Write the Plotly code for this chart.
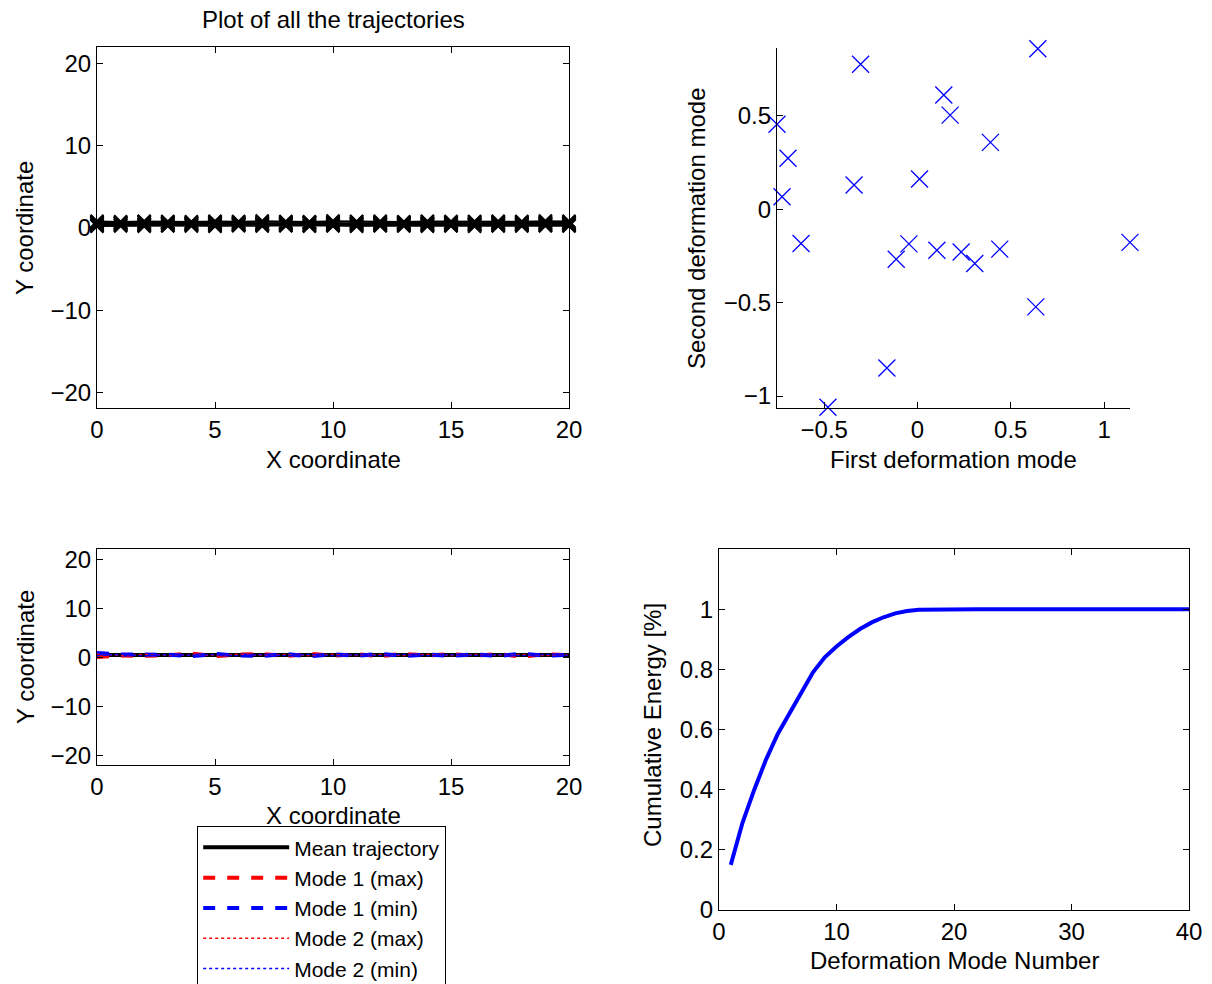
import plotly.graph_objects as go

W, H = 1212, 984

# ---------------- data ----------------
x_coord = list(range(21))

traj_1 = [0.45, 0.52, 0.48, 0.55, 0.50, 0.47, 0.53, 0.49, 0.51, 0.56, 0.50, 0.46, 0.52, 0.49, 0.54, 0.50, 0.47, 0.53, 0.50, 0.48, 0.51]
traj_2 = [0.30, 0.36, 0.33, 0.28, 0.35, 0.31, 0.38, 0.34, 0.29, 0.33, 0.37, 0.32, 0.30, 0.36, 0.33, 0.28, 0.34, 0.31, 0.35, 0.30, 0.33]
traj_3 = [0.70, 0.66, 0.72, 0.68, 0.64, 0.71, 0.67, 0.73, 0.69, 0.65, 0.70, 0.74, 0.68, 0.66, 0.71, 0.69, 0.72, 0.67, 0.70, 0.73, 0.68]
traj_4 = [0.55, 0.60, 0.42, 0.58, 0.47, 0.62, 0.44, 0.57, 0.49, 0.61, 0.43, 0.59, 0.46, 0.63, 0.45, 0.58, 0.41, 0.60, 0.48, 0.56, 0.52]
traj_5 = [0.20, 0.25, 0.22, 0.27, 0.24, 0.21, 0.26, 0.23, 0.28, 0.22, 0.25, 0.20, 0.27, 0.24, 0.22, 0.26, 0.21, 0.25, 0.23, 0.27, 0.24]
traj_6 = [0.80, 0.76, 0.82, 0.78, 0.75, 0.81, 0.77, 0.84, 0.79, 0.76, 0.83, 0.78, 0.80, 0.75, 0.82, 0.79, 0.77, 0.81, 0.78, 0.83, 0.80]
traj_7 = [0.40, 0.38, 0.44, 0.41, 0.37, 0.43, 0.39, 0.42, 0.45, 0.40, 0.36, 0.42, 0.44, 0.39, 0.41, 0.37, 0.43, 0.40, 0.38, 0.42, 0.39]
traj_8 = [0.62, 0.57, 0.65, 0.60, 0.56, 0.63, 0.59, 0.54, 0.61, 0.66, 0.58, 0.55, 0.62, 0.60, 0.57, 0.64, 0.59, 0.56, 0.63, 0.58, 0.61]
trajectories = [traj_1, traj_2, traj_3, traj_4, traj_5, traj_6, traj_7, traj_8]

mode1_first = [-0.753, -0.694, -0.726, -0.624, -0.480, -0.305, -0.340, -0.164, -0.114, -0.046, 0.011,
               0.104, 0.141, 0.175, 0.234, 0.307, 0.391, 0.441, 0.634, 0.645, 1.139]
mode2_second = [0.454, 0.272, 0.066, -0.184, -1.060, 0.775, 0.129, -0.850, -0.268, -0.186, 0.161,
                -0.220, 0.611, 0.503, -0.229, -0.291, 0.357, -0.214, -0.523, 0.858, -0.178]

mean_traj = [0.50, 0.51, 0.49, 0.50, 0.52, 0.50, 0.49, 0.51, 0.50, 0.50, 0.51, 0.49, 0.50, 0.52, 0.50, 0.49, 0.51, 0.50, 0.50, 0.51, 0.50]
mode1_max = [0.10, 0.40, 0.35, 0.45, 0.80, 0.30, 0.60, 0.70, 0.30, 0.75, 0.35, 0.65, 0.30, 0.72, 0.40, 0.68, 0.35, 0.70, 0.20, 0.65, 0.45]
mode1_min = [0.90, 0.60, 0.62, 0.55, 0.25, 0.72, 0.40, 0.32, 0.70, 0.26, 0.66, 0.34, 0.72, 0.30, 0.60, 0.32, 0.66, 0.30, 0.80, 0.36, 0.55]
mode2_max = [0.62, 0.38, 0.64, 0.42, 0.58, 0.40, 0.62, 0.43, 0.60, 0.38, 0.64, 0.42, 0.59, 0.41, 0.63, 0.40, 0.60, 0.44, 0.62, 0.39, 0.58]
mode2_min = [0.38, 0.64, 0.34, 0.58, 0.46, 0.60, 0.36, 0.59, 0.40, 0.62, 0.38, 0.56, 0.41, 0.63, 0.37, 0.58, 0.42, 0.56, 0.38, 0.63, 0.42]

mode_number = list(range(1, 41))
cum_energy = [0.150, 0.290, 0.400, 0.500, 0.585, 0.655, 0.722, 0.790, 0.840, 0.876,
              0.907, 0.934, 0.956, 0.973, 0.986, 0.994, 0.998, 0.999, 1.000, 1.000,
              1.000, 1.000, 1.000, 1.000, 1.000, 1.000, 1.000, 1.000, 1.000, 1.000,
              1.000, 1.000, 1.000, 1.000, 1.000, 1.000, 1.000, 1.000, 1.000, 1.000]

# ---------------- figure ----------------
FONT = "Liberation Sans, Arial, Helvetica, sans-serif"
FS = 24

def px(x):
    return x / W

def py(y):
    return 1 - y / H

fig = go.Figure()

# top-left: all trajectories
for i, t in enumerate(trajectories):
    fig.add_trace(go.Scatter(
        x=x_coord, y=t, mode="lines+markers", xaxis="x", yaxis="y",
        line=dict(color="black", width=1.5),
        marker=dict(symbol="x-thin", size=13, line=dict(color="black", width=2.2)),
        showlegend=False, hoverinfo="skip", cliponaxis=False))

# top-right: scatter of deformation modes
fig.add_trace(go.Scatter(
    x=mode1_first, y=mode2_second, mode="markers", xaxis="x2", yaxis="y2",
    marker=dict(symbol="x-thin", size=17, line=dict(color="#0000ff", width=1.3)),
    showlegend=False, cliponaxis=False))

# bottom-left: mean and modes
fig.add_trace(go.Scatter(x=x_coord, y=mean_traj, mode="lines", xaxis="x3", yaxis="y3",
                         name="Mean trajectory", line=dict(color="black", width=4)))
fig.add_trace(go.Scatter(x=x_coord, y=mode1_max, mode="lines", xaxis="x3", yaxis="y3",
                         name="Mode 1 (max)", line=dict(color="#ff0000", width=4, dash="dash")))
fig.add_trace(go.Scatter(x=x_coord, y=mode1_min, mode="lines", xaxis="x3", yaxis="y3",
                         name="Mode 1 (min)", line=dict(color="#0000ff", width=4, dash="dash")))
fig.add_trace(go.Scatter(x=x_coord, y=mode2_max, mode="lines", xaxis="x3", yaxis="y3",
                         name="Mode 2 (max)", line=dict(color="#ff0000", width=1.5, dash="dot")))
fig.add_trace(go.Scatter(x=x_coord, y=mode2_min, mode="lines", xaxis="x3", yaxis="y3",
                         name="Mode 2 (min)", line=dict(color="#0000ff", width=1.5, dash="dot")))

# bottom-right: cumulative energy
fig.add_trace(go.Scatter(x=mode_number, y=cum_energy, mode="lines", xaxis="x4", yaxis="y4",
                         line=dict(color="#0000ff", width=4), showlegend=False))

common = dict(showline=True, linecolor="black", linewidth=1.2,
              ticks="inside", ticklen=6, tickcolor="black", showgrid=False, zeroline=False,
              automargin=False, tickfont=dict(family=FONT, size=FS, color="black"))
box = dict(mirror="ticks", **common)
open_ax = dict(mirror=False, **common)

fig.update_layout(
    width=W, height=H,
    margin=dict(l=0, r=0, t=0, b=0, autoexpand=False),
    paper_bgcolor="white", plot_bgcolor="white",
    font=dict(family=FONT, size=FS, color="black"),
    xaxis=dict(domain=[px(97), px(569)], anchor="y", range=[0, 20], tickvals=[0, 5, 10, 15, 20], **box),
    yaxis=dict(domain=[py(408), py(47)], anchor="x", range=[-21.9, 22.0], tickvals=[-20, -10, 0, 10, 20], **box),
    xaxis2=dict(domain=[px(777), px(1130)], anchor="y2", range=[-0.753, 1.139], tickvals=[-0.5, 0, 0.5, 1], **open_ax),
    yaxis2=dict(domain=[py(408), py(48)], anchor="x2", range=[-1.064, 0.862], tickvals=[-1, -0.5, 0, 0.5], **open_ax),
    xaxis3=dict(domain=[px(97), px(569)], anchor="y3", range=[0, 20], tickvals=[0, 5, 10, 15, 20], **box),
    yaxis3=dict(domain=[py(765), py(549)], anchor="x3", range=[-21.9, 22.1], tickvals=[-20, -10, 0, 10, 20], **box),
    xaxis4=dict(domain=[px(719), px(1189)], anchor="y4", range=[0, 40], tickvals=[0, 10, 20, 30, 40], **box),
    yaxis4=dict(domain=[py(910), py(549)], anchor="x4", range=[0, 1.2], tickvals=[0, 0.2, 0.4, 0.6, 0.8, 1],
                ticktext=["0", "0.2", "0.4", "0.6", "0.8", "1"], **box),
    legend=dict(x=px(197), y=py(826), xanchor="left", yanchor="top",
                bordercolor="black", borderwidth=1.2, bgcolor="white",
                font=dict(family=FONT, size=21, color="black"),
                itemwidth=86, tracegroupgap=0),
)

def label(text, x, y, angle=0):
    fig.add_annotation(text=text, x=px(x), y=py(y), xref="paper", yref="paper",
                       showarrow=False, textangle=angle, xanchor="center", yanchor="middle",
                       font=dict(family=FONT, size=FS, color="black"))

label("Plot of all the trajectories", 333, 20)
label("Y coordinate", 25, 228, -90)
label("X coordinate", 333, 459)
label("Y coordinate", 25, 657, -90)
label("X coordinate", 333, 815)
label("Second deformation mode", 697, 228, -90)
label("First deformation mode", 953, 459)
label("Cumulative Energy [%]", 652, 725, -90)
label("Deformation Mode Number", 954, 960)

fig.write_html("out.html")
